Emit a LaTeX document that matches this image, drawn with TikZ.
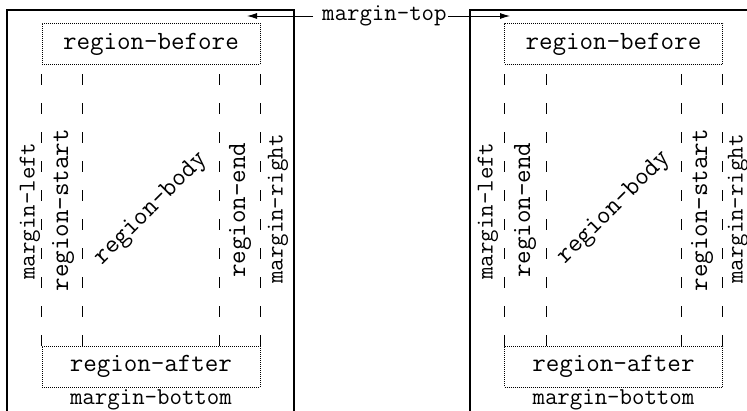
\RequirePackage{fix-cm}
\documentclass[tikz,border=0pt]{standalone}
\usetikzlibrary{arrows.meta,calc}
\newcommand\cmttreg{\fontencoding{OT1}\fontfamily{cmtt}\fontsize{26.3}{30}\selectfont}
\newcommand\cmttmarg{\fontencoding{OT1}\fontfamily{cmtt}\fontsize{24.2}{28}\selectfont}
\begin{document}
\begin{tikzpicture}[x=1pt,y=-1pt,
  pageedge/.style={line width=1.1pt,black},
  regbox/.style={draw,line width=0.7pt,dash pattern=on 1pt off 1pt,minimum width=218pt,minimum height=41pt,inner sep=0pt,font=\cmttreg},
  regtext/.style={inner sep=0pt,font=\cmttreg},
  margtext/.style={inner sep=0pt,font=\cmttmarg},
  sep/.style={line width=0.9pt,dash pattern=on 11pt off 18pt},
  arr/.style={line width=0.9pt,-{Latex[length=10pt,width=6pt]}}]
\useasboundingbox (0,0) rectangle (747,411);
% pages
\draw[pageedge] (7,430) -- (7,10) -- (294,10) -- (294,430);
\draw[pageedge] (470,430) -- (470,10) -- (760,10);
% left page
\node[regbox] (rb1) at (151,44) {region-before};
\node[regbox] (ra1) at (151,366.5) {region-after};
\node[margtext] (mb1) at (151,400) {margin-bottom};
\coordinate (a1) at ($(ra1.north west)+(41,0)$);
\coordinate (b1) at ($(rb1.south west)+(41,0)$);
\coordinate (c1) at ($(ra1.north east)+(-41,0)$);
\coordinate (d1) at ($(rb1.south east)+(-41,0)$);
\draw[sep] (ra1.north west) -- (rb1.south west);
\draw[sep] (a1) -- (b1);
\draw[sep] (c1) -- (d1);
\draw[sep] (ra1.north east) -- (rb1.south east);
\node[margtext,rotate=90] (ml1) at (30,211) {margin-left};
\node[regtext,rotate=90] (rs1) at (63,210) {region-start};
\node[regtext,rotate=45] (rbody1) at (151,209) {region-body};
\node[regtext,rotate=90] (re1) at (240,210) {region-end};
\node[margtext,rotate=90] (mr1) at (278,209) {margin-right};
% right page
\node[regbox] (rb2) at (613.5,44) {region-before};
\node[regbox] (ra2) at (613.5,366.5) {region-after};
\node[margtext] (mb2) at (613.5,400) {margin-bottom};
\coordinate (a2) at ($(ra2.north west)+(42,0)$);
\coordinate (b2) at ($(rb2.south west)+(42,0)$);
\coordinate (c2) at ($(ra2.north east)+(-41,0)$);
\coordinate (d2) at ($(rb2.south east)+(-41,0)$);
\draw[sep] (ra2.north west) -- (rb2.south west);
\draw[sep] (a2) -- (b2);
\draw[sep] (c2) -- (d2);
\draw[sep] (ra2.north east) -- (rb2.south east);
\node[margtext,rotate=90] (ml2) at (488,211) {margin-left};
\node[regtext,rotate=90] (re2) at (525,210) {region-end};
\node[regtext,rotate=45] (rbody2) at (614,208) {region-body};
\node[regtext,rotate=90] (rs2) at (702,210) {region-start};
\node[margtext,rotate=90] (mr2) at (738,209) {margin-right};
% margin-top
\node[margtext] (mt) at (384.5,16) {margin-top};
\coordinate (mtl) at (313,16);
\coordinate (mtr) at (448,16);
\coordinate (tipl) at (247,16);
\coordinate (tipr) at (510,16);
\draw[arr] (mtl) -- (tipl);
\draw[arr] (mtr) -- (tipr);
\end{tikzpicture}
\end{document}
